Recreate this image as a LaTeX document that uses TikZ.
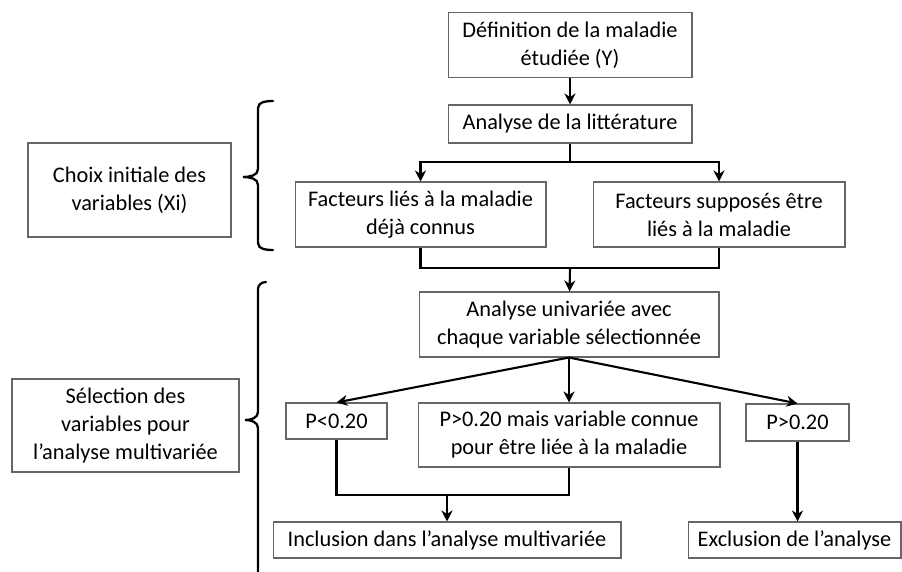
\documentclass[tikz,border=0pt]{standalone}
\usepackage{fontspec}
\setmainfont{Carlito}
\usetikzlibrary{arrows.meta, positioning}

\begin{document}
\begin{tikzpicture}[x=0.02cm, y=-0.02cm,
    every node/.style={font=\fontsize{12.7}{15.9}\selectfont},
    box/.style={draw=gray!80!black, line width=0.6pt, align=center, inner sep=0pt, fill=white},
    arr/.style={-{Stealth[length=2.2mm, width=2.2mm]}, line width=1.2pt},
    link/.style={line width=1.2pt},
    brace/.style={line width=1.3pt, line cap=round}]
  \useasboundingbox (0,0) rectangle (902,571);
  % main column
  \node[box, minimum width=4.88cm, minimum height=1.30cm] (def) at (570,45) {Définition de la maladie\\étudiée (Y)};
  \node[box, minimum width=4.88cm, minimum height=0.76cm] (lit) at (570,124) {Analyse de la littérature};
  \node[box, minimum width=5.02cm, minimum height=1.30cm] (f1) at (420.5,214.5) {Facteurs liés à la maladie\\déjà connus};
  \node[box, minimum width=5.04cm, minimum height=1.30cm] (f2) at (719,214.5) {Facteurs supposés être\\liés à la maladie};
  \node[box, minimum width=6.00cm, minimum height=1.30cm] (uni) at (569,324.5) {Analyse univariée avec\\chaque variable sélectionnée};
  \node[box, minimum width=2.02cm, minimum height=0.72cm] (plt) at (336.5,421) {P<0.20};
  \node[box, minimum width=6.04cm, minimum height=1.28cm] (mid) at (569,435) {P>0.20 mais variable connue\\pour être liée à la maladie};
  \node[box, minimum width=2.06cm, minimum height=0.74cm] (pgt) at (797.5,422.5) {P>0.20};
  \node[box, minimum width=6.96cm, minimum height=0.72cm] (incl) at (447,540) {Inclusion dans l’analyse multivariée};
  \node[box, minimum width=4.26cm, minimum height=0.72cm] (excl) at (794.5,540) {Exclusion de l’analyse};
  % left labels
  \node[box, minimum width=4.06cm, minimum height=1.88cm] (choix) at (129.5,190) {Choix initiale des\\variables (Xi)};
  \node[box, minimum width=4.54cm, minimum height=1.86cm] (sel) at (125.5,425.5) {Sélection des\\variables pour\\l’analyse multivariée};
  % junctions
  \coordinate (split) at (570,162);
  \coordinate (merge) at (570,268);
  \coordinate (join) at (447,495);
  % connectors
  \draw[arr] (def) -- (lit);
  \draw[link] (lit) -- (split);
  \draw[arr] (split) -| (f1);
  \draw[arr] (split) -| (f2);
  \draw[link] (f1) |- (merge);
  \draw[link] (f2) |- (merge);
  \draw[arr] (merge) -- (uni);
  \draw[arr] (uni.south) -- (plt.north);
  \draw[arr] (uni.south) -- (mid.north);
  \draw[arr] (uni.south) -- (pgt.north);
  \draw[link] (plt) |- (join);
  \draw[link] (mid) |- (join);
  \draw[arr] (join) -- (incl);
  \draw[arr] (pgt.south) -- (pgt.south |- excl.north);
  % braces
  \draw[brace] (273,101) to[out=180, in=90] (258,108) -- (258,169)
    to[out=-90, in=0] (243,177) to[out=0, in=90] (258,185) -- (258,243)
    to[out=-90, in=180] (273,250);
  \draw[brace] (266,282) to[out=180, in=90] (258,289) -- (258,412)
    to[out=-90, in=0] (245,420) to[out=0, in=90] (258,428) -- (258,575);
\end{tikzpicture}
\end{document}
